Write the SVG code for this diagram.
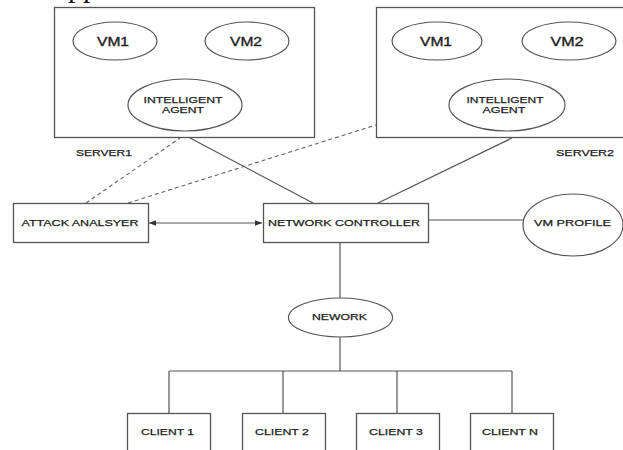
<svg xmlns="http://www.w3.org/2000/svg" width="623" height="450" viewBox="0 0 623 450">
<style>
.box{fill:#fff;stroke:#555;stroke-width:1.3}
.ell{fill:#fff;stroke:#555;stroke-width:1.2}
.ln{fill:none;stroke:#555;stroke-width:1.2}
.dash{fill:none;stroke:#666;stroke-width:1.1;stroke-dasharray:4 3}
.t{font-family:"Liberation Sans",Arial,sans-serif;font-size:9.5px;fill:#222;stroke:#222;stroke-width:0.25;text-anchor:middle}
.vm{font-size:12.5px;stroke-width:0.35}
</style>
<defs>
<marker id="ah" viewBox="0 0 10 10" refX="10" refY="5" markerWidth="7" markerHeight="7" orient="auto-start-reverse" markerUnits="userSpaceOnUse">
<path d="M0,1 L10,5 L0,9 Z" fill="#333"/>
</marker>
</defs>
<rect width="623" height="450" fill="#fff"/>
<text x="68" y="-3" font-family="'Liberation Serif',serif" font-size="30" fill="#111">pp</text>

<g id="connectors">
<line class="ln" x1="190" y1="138" x2="313" y2="203"/>
<line class="ln" x1="378" y1="203" x2="512" y2="138"/>
<line class="dash" x1="86" y1="203" x2="180" y2="138"/>
<line class="dash" x1="128" y1="203" x2="376" y2="125"/>
<line class="ln" x1="149" y1="223" x2="262" y2="223" marker-start="url(#ah)" marker-end="url(#ah)"/>
<line class="ln" x1="428" y1="220" x2="523" y2="220"/>
<line class="ln" x1="340" y1="242" x2="340" y2="298"/>
<line class="ln" x1="340" y1="337" x2="340" y2="371"/>
<line class="ln" x1="169" y1="371" x2="512" y2="371"/>
<line class="ln" x1="169" y1="371" x2="169" y2="413"/>
<line class="ln" x1="283" y1="371" x2="283" y2="413"/>
<line class="ln" x1="397" y1="371" x2="397" y2="413"/>
<line class="ln" x1="512" y1="371" x2="512" y2="413"/>
</g>

<g id="server1">
<rect class="box" x="54.5" y="7.5" width="260" height="130"/>
<text class="t" x="104" y="155.5" textLength="56" lengthAdjust="spacingAndGlyphs">SERVER1</text>
</g>
<g id="s1-vm1">
<ellipse class="ell" cx="115" cy="41" rx="42" ry="19"/>
<text class="t vm" x="113" y="45.5" textLength="32" lengthAdjust="spacingAndGlyphs">VM1</text>
</g>
<g id="s1-vm2">
<ellipse class="ell" cx="247" cy="41" rx="42" ry="19"/>
<text class="t vm" x="246" y="45.5" textLength="32" lengthAdjust="spacingAndGlyphs">VM2</text>
</g>
<g id="s1-agent">
<ellipse class="ell" cx="185" cy="105" rx="57" ry="26"/>
<text class="t" x="183" y="102.7" textLength="79" lengthAdjust="spacingAndGlyphs">INTELLIGENT</text>
<text class="t" x="183" y="112.7" textLength="42" lengthAdjust="spacingAndGlyphs">AGENT</text>
</g>

<g id="server2">
<rect class="box" x="376.5" y="7.5" width="260" height="130"/>
<text class="t" x="585" y="155.5" textLength="58" lengthAdjust="spacingAndGlyphs">SERVER2</text>
</g>
<g id="s2-vm1">
<ellipse class="ell" cx="437" cy="41" rx="45" ry="19"/>
<text class="t vm" x="436" y="45.5" textLength="32" lengthAdjust="spacingAndGlyphs">VM1</text>
</g>
<g id="s2-vm2">
<ellipse class="ell" cx="569" cy="41" rx="47" ry="19"/>
<text class="t vm" x="567" y="45.5" textLength="33" lengthAdjust="spacingAndGlyphs">VM2</text>
</g>
<g id="s2-agent">
<ellipse class="ell" cx="507" cy="105" rx="58" ry="26"/>
<text class="t" x="505" y="102.7" textLength="77" lengthAdjust="spacingAndGlyphs">INTELLIGENT</text>
<text class="t" x="504" y="112.7" textLength="43" lengthAdjust="spacingAndGlyphs">AGENT</text>
</g>

<g id="attack-analyser">
<rect class="box" x="13.5" y="203.5" width="135" height="39"/>
<text class="t" x="80" y="226" textLength="117" lengthAdjust="spacingAndGlyphs">ATTACK ANALSYER</text>
</g>
<g id="network-controller">
<rect class="box" x="263.5" y="203.5" width="165" height="39"/>
<text class="t" x="344" y="226" textLength="152" lengthAdjust="spacingAndGlyphs">NETWORK CONTROLLER</text>
</g>
<g id="vm-profile">
<ellipse class="ell" cx="573" cy="225" rx="50" ry="31"/>
<text class="t" x="572.5" y="225.5" textLength="77" lengthAdjust="spacingAndGlyphs">VM PROFILE</text>
</g>
<g id="nework">
<ellipse class="ell" cx="340.5" cy="317.5" rx="52" ry="19.5"/>
<text class="t" x="339.5" y="319.5" textLength="55" lengthAdjust="spacingAndGlyphs">NEWORK</text>
</g>
<g id="client1">
<rect class="box" x="127.5" y="413.5" width="83" height="50"/>
<text class="t" x="167.5" y="434.5" textLength="53" lengthAdjust="spacingAndGlyphs">CLIENT 1</text>
</g>
<g id="client2">
<rect class="box" x="242.5" y="413.5" width="83" height="50"/>
<text class="t" x="282" y="434.5" textLength="54" lengthAdjust="spacingAndGlyphs">CLIENT 2</text>
</g>
<g id="client3">
<rect class="box" x="356.5" y="413.5" width="83" height="50"/>
<text class="t" x="396" y="434.5" textLength="54" lengthAdjust="spacingAndGlyphs">CLIENT 3</text>
</g>
<g id="clientN">
<rect class="box" x="470.5" y="413.5" width="83" height="50"/>
<text class="t" x="510" y="434.5" textLength="56" lengthAdjust="spacingAndGlyphs">CLIENT N</text>
</g>
</svg>
